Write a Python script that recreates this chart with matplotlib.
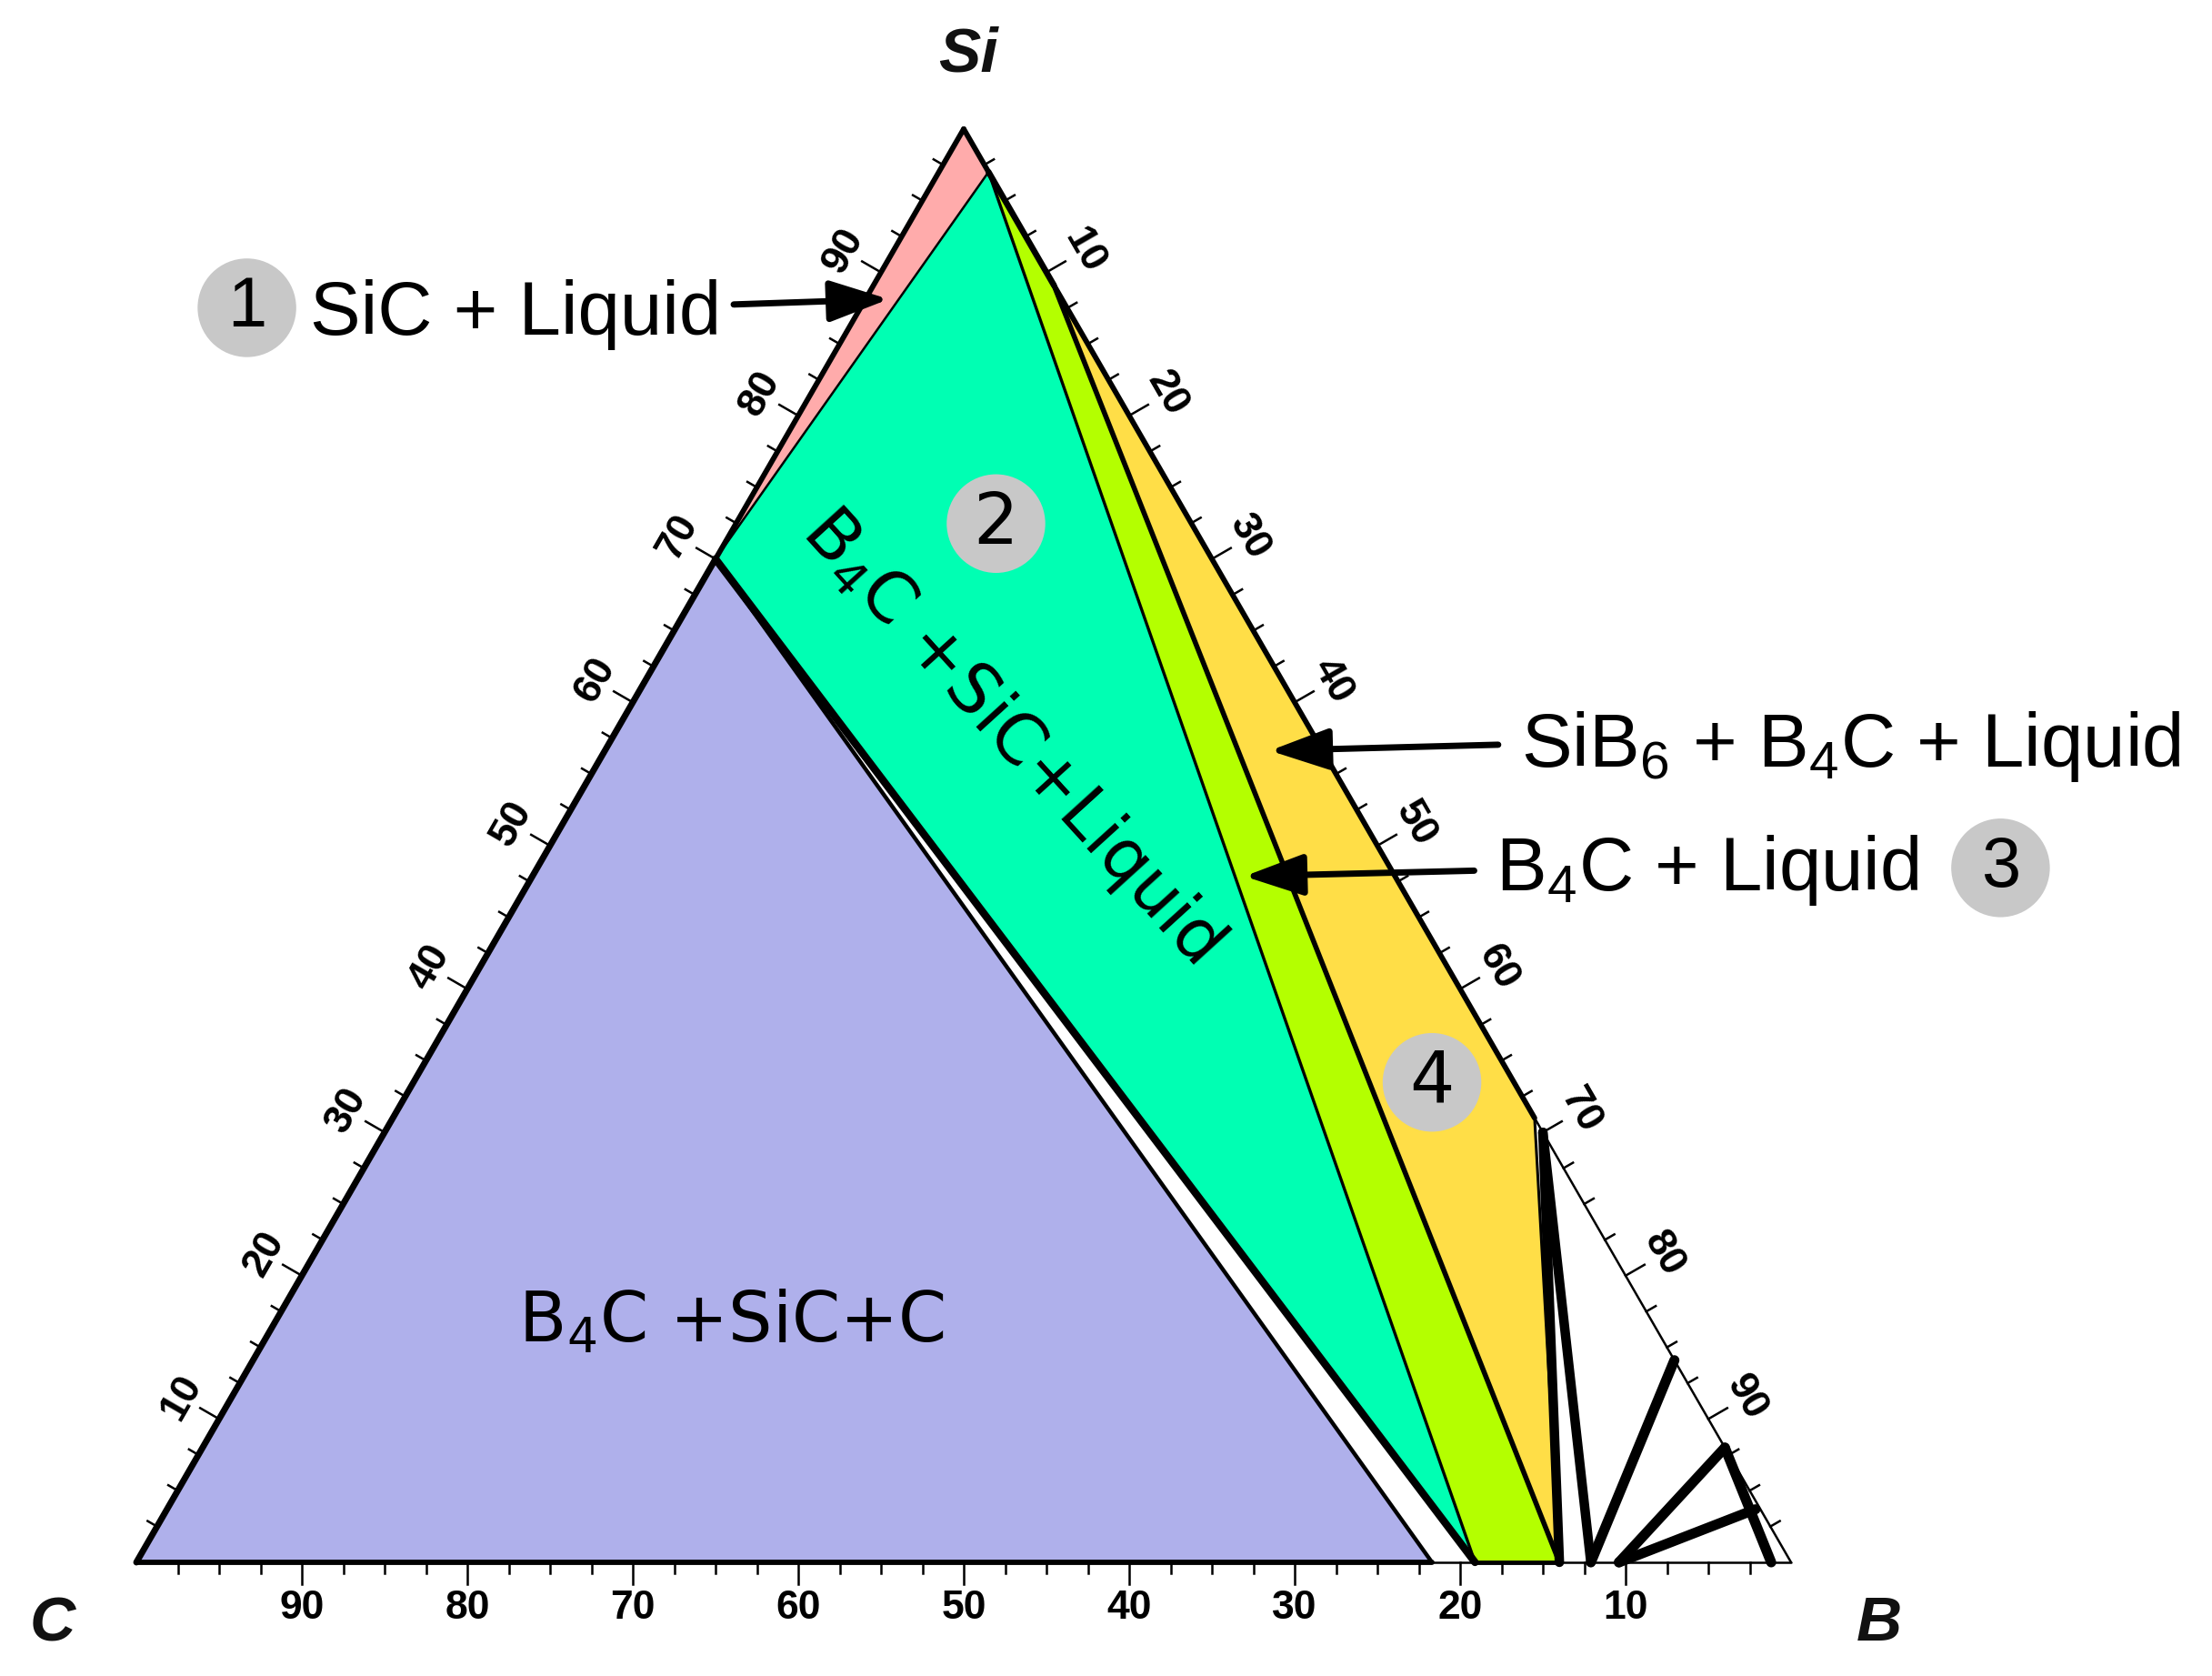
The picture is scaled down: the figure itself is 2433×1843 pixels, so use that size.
import math
import matplotlib
matplotlib.use("Agg")
import matplotlib.pyplot as plt
from matplotlib.patches import Polygon, Circle, FancyArrowPatch, ArrowStyle

plt.rcParams['mathtext.fontset'] = 'custom'
plt.rcParams['mathtext.rm'] = 'Liberation Sans'
plt.rcParams['mathtext.it'] = 'Liberation Sans:italic'
plt.rcParams['mathtext.bf'] = 'Liberation Sans:bold'

# ---------------- data: compositions in wt %, ordered (Si, B, C) ----------------
P_Si = (100.0, 0.0, 0.0)
P_B = (0.0, 100.0, 0.0)
P_C = (0.0, 0.0, 100.0)
P_SiC = (70.0, 0.0, 30.0)
P_B4C = (0.0, 78.3, 21.7)
P_SiB6 = (31.0, 69.0, 0.0)
P_SiB6_line = (30.0, 70.0, 0.0)
P_green_top = (97.0, 3.0, 0.0)
P_green_bottom = (0.0, 80.9, 19.1)
P_yellow_top = (89.1, 10.9, 0.0)
P_lime_bottom = (0.0, 86.0, 14.0)
P_edge86 = (14.1, 85.9, 0.0)
P_edge92 = (8.0, 92.0, 0.0)
P_edge96 = (3.7, 96.0, 0.3)
P_bot12 = (0.0, 87.9, 12.1)
P_bot10 = (0.0, 89.6, 10.4)
P_bot1 = (0.0, 98.8, 1.2)

region_blue = [P_C, P_SiC, P_B4C]                                   # B4C + SiC + C
region_pink = [P_Si, P_SiC, P_green_top]                            # SiC + Liquid
region_green = [P_SiC, P_green_top, P_green_bottom]                 # B4C + SiC + Liquid
region_lime = [P_green_top, P_yellow_top, P_lime_bottom, P_green_bottom]  # B4C + Liquid
region_yellow = [P_yellow_top, P_SiB6, P_lime_bottom]               # SiB6 + B4C + Liquid

major_ticks = [10, 20, 30, 40, 50, 60, 70, 80, 90]
minor_ticks = [2.5 * k for k in range(1, 40)]
bottom_labels = ['10', '20', '30', '40', '50', '60', '70', '80', '90']   # C content
left_labels = ['10', '20', '30', '40', '50', '60', '70', '80', '90']     # Si content
right_labels = ['10', '20', '30', '40', '50', '60', '70', '80', '90']    # B content

vertex_names = ['Si', 'C', 'B']
circle_numbers = ['1', '2', '3', '4']

# colours
c_blue = '#AFB0EB'
c_pink = '#FFABAB'
c_green = '#00FFB3'
c_lime = '#B4FF00'
c_yellow = '#FFDE47'
c_circle = '#C8C8C8'

S3 = math.sqrt(3) / 2


def tern(p):
    si, b, c = p
    t = si + b + c
    return ((b + si / 2.0) / t, si * S3 / t)


fig = plt.figure(figsize=(24.33, 18.43), dpi=100)
ax = fig.add_axes([0, 0, 1, 1])
PX = 1820.0
ax.set_xlim(-150 / PX, (2433 - 150) / PX)
ax.set_ylim(-125 / PX, (1843 - 125) / PX)
ax.axis('off')

# ---------------- regions ----------------
for reg, col in [(region_blue, c_blue), (region_pink, c_pink), (region_green, c_green),
                 (region_lime, c_lime), (region_yellow, c_yellow)]:
    ax.add_patch(Polygon([tern(p) for p in reg], closed=True, facecolor=col,
                         edgecolor='none', zorder=1))


def seg(p, q, lw):
    a, b = tern(p), tern(q)
    ax.plot([a[0], b[0]], [a[1], b[1]], color='black', lw=lw,
            solid_capstyle='round', solid_joinstyle='round', zorder=3)


# frame
for p, q in [(P_C, P_B), (P_B, P_Si), (P_Si, P_C)]:
    seg(p, q, 1.8)

# region boundaries
seg(P_C, P_SiC, 5.0)
seg(P_C, P_B4C, 4.2)
seg(P_SiC, P_B4C, 3.2)
seg(P_SiC, P_Si, 4.2)
seg(P_Si, P_green_top, 4.2)
seg(P_SiC, P_green_top, 1.8)
seg(P_SiC, P_green_bottom, 6.0)
seg(P_green_top, P_green_bottom, 2.4)
seg(P_green_top, P_yellow_top, 4.8)
seg(P_yellow_top, P_SiB6, 4.2)
seg(P_yellow_top, P_lime_bottom, 4.0)
seg(P_green_bottom, P_lime_bottom, 3.5)
seg(P_SiB6, P_lime_bottom, 2.2)
# tie lines in the boron-rich corner
seg(P_SiB6_line, P_lime_bottom, 7.5)
seg(P_SiB6_line, P_bot12, 7.5)
seg(P_edge86, P_bot12, 8.0)
seg(P_edge92, P_bot10, 8.0)
seg(P_edge96, P_bot10, 8.0)
seg(P_edge92, P_bot1, 8.0)

# ---------------- ticks ----------------
n_bottom = (0.0, -1.0)
n_left = (-S3, 0.5)
n_right = (S3, 0.5)
L_minor = 12 / PX
L_major = 24 / PX
for v in minor_ticks:
    L = L_major if abs(v % 10) < 1e-9 else L_minor
    for p, n in [((0.0, 100 - v, v), n_bottom), ((v, 0.0, 100 - v), n_left),
                 ((100 - v, v, 0.0), n_right)]:
        x, y = tern(p)
        ax.plot([x, x + n[0] * L], [y, y + n[1] * L], color='black', lw=1.8, zorder=3)

tick_font = dict(family=['Liberation Sans', 'DejaVu Sans'], fontweight='bold', fontsize=32)
off_b = 50 / PX
off_s = 48 / PX
for v, lab in zip(major_ticks, bottom_labels):
    x, y = tern((0.0, 100 - v, v))
    ax.text(x, y - off_b, lab, ha='center', va='center', **tick_font)
for v, lab in zip(major_ticks, left_labels):
    x, y = tern((v, 0.0, 100 - v))
    ax.text(x + n_left[0] * off_s, y + n_left[1] * off_s, lab, rotation=60,
            ha='center', va='center', rotation_mode='anchor', **tick_font)
for v, lab in zip(major_ticks, right_labels):
    x, y = tern((100 - v, v, 0.0))
    ax.text(x + n_right[0] * off_s, y + n_right[1] * off_s, lab, rotation=-60,
            ha='center', va='center', rotation_mode='anchor', **tick_font)

# vertex labels
vfont = dict(family=['Liberation Sans', 'DejaVu Sans'], fontweight='bold', fontstyle='italic',
             fontsize=50, color='#111111', ha='center', va='center')
ax.text(0.5025, 0.9105, vertex_names[0], **vfont)
ax.text(-0.0509, -0.0374, vertex_names[1], **vfont)
ax.text(1.053, -0.0374, vertex_names[2], **vfont)

# ---------------- annotations ----------------
lib = dict(family=['Liberation Sans', 'DejaVu Sans'], math_fontfamily='custom', fontsize=60)
dvs = dict(family=['DejaVu Sans'], math_fontfamily='dejavusans', fontsize=55)

ax.text(0.105, 0.742, 'SiC + Liquid', ha='left', va='baseline', zorder=5, **lib)
ax.text(0.8366, 0.481, r'SiB$_{\mathrm{6}}$ + B$_{\mathrm{4}}$C + Liquid', ha='left',
        va='baseline', zorder=5, **lib)
ax.text(0.8213, 0.406, r'B$_{\mathrm{4}}$C + Liquid', ha='left', va='baseline', zorder=5, **lib)
ax.text(0.2305, 0.1332, r'B$_{\mathrm{4}}$C +SiC+C', ha='left', va='baseline', zorder=5, **dvs)
ax.text(0.529, 0.499, r'B$_{\mathrm{4}}$C +SiC+Liquid', rotation=-47.7, rotation_mode='anchor',
        ha='center', va='center', zorder=5, **dvs)

R = 0.0298
circ_pos = [(0.0668, 0.758), (0.5195, 0.6276), (1.1266, 0.4196), (0.783, 0.290)]
circ_font = [lib, dvs, lib, dvs]
for (cx, cy), num, f in zip(circ_pos, circle_numbers, circ_font):
    ax.add_patch(Circle((cx, cy), R, facecolor=c_circle, edgecolor='none', zorder=4))
    ff = dict(f)
    ff['fontsize'] = 56
    ax.text(cx, cy, num, ha='center', va='center', zorder=5, **ff)

arrows = [((0.361, 0.760), (0.4547, 0.7632)),
          ((0.823, 0.494), (0.685, 0.4904)),
          ((0.8085, 0.4179), (0.6696, 0.4145))]
for tail, head in arrows:
    ax.add_patch(FancyArrowPatch(tail, head,
                                 arrowstyle=ArrowStyle('-|>', head_length=40, head_width=14),
                                 mutation_scale=1, lw=5, color='black',
                                 shrinkA=0, shrinkB=0, zorder=6))

fig.savefig('out.png', dpi=100)
